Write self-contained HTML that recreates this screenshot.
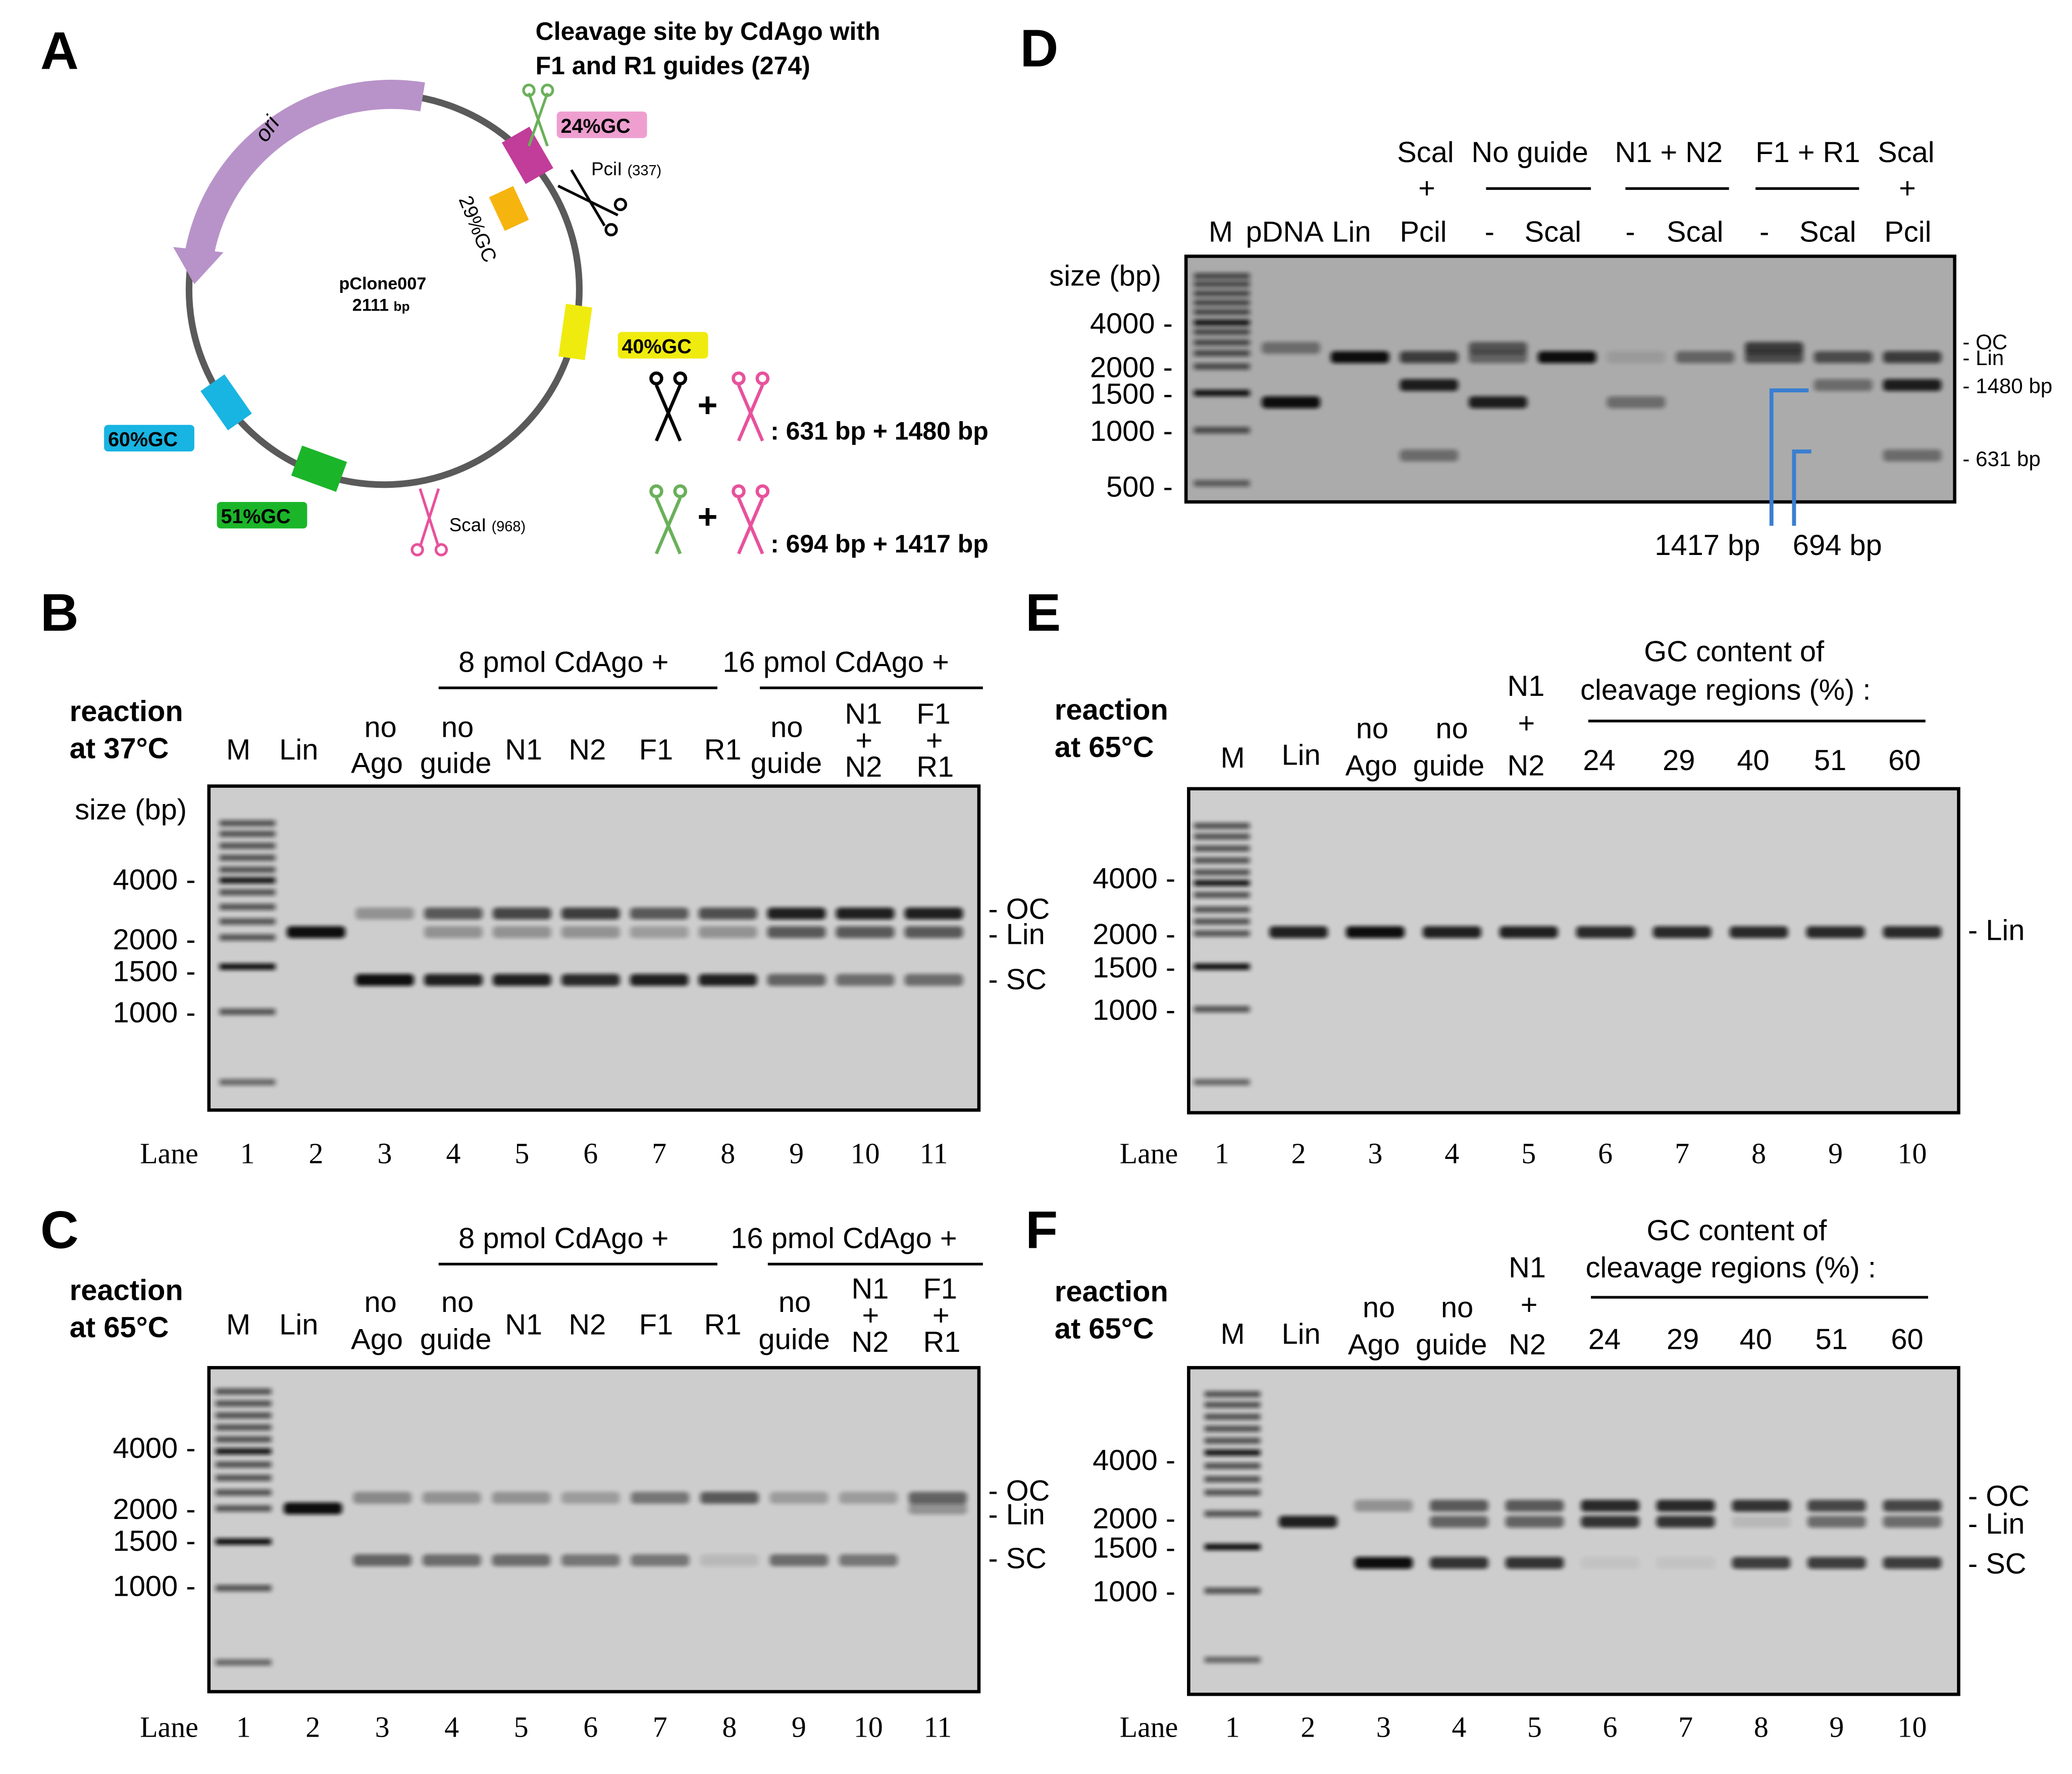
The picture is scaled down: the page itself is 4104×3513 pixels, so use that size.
<!DOCTYPE html>
<html><head><meta charset="utf-8">
<style>
html,body{margin:0;padding:0;background:#fff;}
svg{display:block;}
text{font-family:"Liberation Sans",Arial,sans-serif;fill:#000;}
.serif{font-family:"Liberation Serif",serif;}
</style></head>
<body>
<svg id="fig" xmlns="http://www.w3.org/2000/svg" width="4104" height="3513" viewBox="0 0 1560 1336">
<defs>
<filter id="blur" x="-20%" y="-100%" width="140%" height="300%"><feGaussianBlur stdDeviation="1.8 1.4"/></filter>
</defs>
<text x="30" y="52" font-size="40" font-weight="bold">A</text>
<text x="768" y="50" font-size="40" font-weight="bold">D</text>
<text x="30" y="475" font-size="40" font-weight="bold">B</text>
<text x="772" y="475" font-size="40" font-weight="bold">E</text>
<text x="30" y="940" font-size="40" font-weight="bold">C</text>
<text x="772" y="940" font-size="40" font-weight="bold">F</text>

<g>
<text x="403" y="30" font-size="19" font-weight="bold">Cleavage site by CdAgo with</text>
<text x="403" y="56" font-size="19" font-weight="bold">F1 and R1 guides (274)</text>
<circle cx="289" cy="218" r="147" fill="none" stroke="#5a5a5a" stroke-width="5"/>
<path d="M318,73 A147,147 0 0 0 150,190" fill="none" stroke="#b893c9" stroke-width="22"/>
<polygon points="130,186 168,190 146,214" fill="#b893c9"/>
<text x="0" y="0" font-size="17" font-style="italic" fill="#333" transform="translate(200,108) rotate(-55)">ori</text>
<rect x="-12" y="-18" width="24" height="36" fill="#c23c9a" transform="translate(397,117) rotate(-30)"/>
<rect x="-10" y="-14" width="20" height="28" fill="#f6b40f" transform="translate(383,157) rotate(-25)"/>
<rect x="-10" y="-20" width="20" height="40" fill="#f0eb0e" transform="translate(433,250) rotate(8)"/>
<rect x="-11" y="-18" width="22" height="36" fill="#18b4e2" transform="translate(170,303) rotate(-35)"/>
<rect x="-12" y="-18" width="24" height="36" fill="#1bb529" transform="translate(240,353) rotate(-70)"/>
<rect x="419" y="84" width="68" height="20" rx="3" fill="#ee9fd0"/>
<text x="422" y="100" font-size="15" font-weight="bold">24%GC</text>
<rect x="465" y="250" width="68" height="20" rx="3" fill="#f0eb0e"/>
<text x="468" y="266" font-size="15" font-weight="bold">40%GC</text>
<rect x="78" y="320" width="68" height="20" rx="3" fill="#18b4e2"/>
<text x="81" y="336" font-size="15" font-weight="bold">60%GC</text>
<rect x="163" y="378" width="68" height="20" rx="3" fill="#1bb529"/>
<text x="166" y="394" font-size="15" font-weight="bold">51%GC</text>
<text x="0" y="0" font-size="15" transform="translate(345,150) rotate(68)">29%GC</text>
<text x="255" y="218" font-size="13" font-weight="bold">pClone007</text>
<text x="265" y="234" font-size="13" font-weight="bold">2111 <tspan font-size="10">bp</tspan></text>
<text x="445" y="132" font-size="14">PciI <tspan font-size="11">(337)</tspan></text>
<text x="338" y="400" font-size="14">ScaI <tspan font-size="11">(968)</tspan></text>
<g stroke="#6ab05a" stroke-width="2" fill="none"><line x1="398" y1="70" x2="412" y2="110"/><line x1="412" y1="70" x2="398" y2="110"/><circle cx="398" cy="68" r="4"/><circle cx="412" cy="68" r="4"/></g>
<g stroke="#000" stroke-width="2" fill="none"><line x1="420" y1="140" x2="465" y2="162"/><line x1="430" y1="128" x2="455" y2="170"/><circle cx="467" cy="154" r="4"/><circle cx="460" cy="173" r="4"/></g>
<g stroke="#e8519c" stroke-width="2" fill="none"><line x1="316" y1="368" x2="330" y2="412"/><line x1="330" y1="368" x2="316" y2="412"/><circle cx="314" cy="414" r="4"/><circle cx="332" cy="414" r="4"/></g>
<g stroke="#000" stroke-width="2.5" fill="none"><line x1="494" y1="290" x2="512" y2="332"/><line x1="512" y1="290" x2="494" y2="332"/><circle cx="494" cy="285" r="4"/><circle cx="512" cy="285" r="4"/></g>
<text x="525" y="314" font-size="26" font-weight="bold">+</text>
<g stroke="#e8519c" stroke-width="2.5" fill="none"><line x1="556" y1="290" x2="574" y2="332"/><line x1="574" y1="290" x2="556" y2="332"/><circle cx="556" cy="285" r="4"/><circle cx="574" cy="285" r="4"/></g>
<text x="580" y="331" font-size="19" font-weight="bold">: 631 bp + 1480 bp</text>
<g stroke="#6ab05a" stroke-width="2.5" fill="none"><line x1="494" y1="375" x2="512" y2="417"/><line x1="512" y1="375" x2="494" y2="417"/><circle cx="494" cy="370" r="4"/><circle cx="512" cy="370" r="4"/></g>
<text x="525" y="398" font-size="26" font-weight="bold">+</text>
<g stroke="#e8519c" stroke-width="2.5" fill="none"><line x1="556" y1="375" x2="574" y2="417"/><line x1="574" y1="375" x2="556" y2="417"/><circle cx="556" cy="370" r="4"/><circle cx="574" cy="370" r="4"/></g>
<text x="580" y="416" font-size="19" font-weight="bold">: 694 bp + 1417 bp</text>
</g>

<g font-size="22">
<text x="52" y="543" font-weight="bold">reaction</text><text x="52" y="571" font-weight="bold">at 37°C</text>
<text x="170" y="572">M</text><text x="210" y="572">Lin</text>
<text x="274" y="555">no</text><text x="264" y="582">Ago</text>
<text x="332" y="555">no</text><text x="316" y="582">guide</text>
<text x="380" y="572">N1</text><text x="428" y="572">N2</text><text x="481" y="572">F1</text><text x="530" y="572">R1</text>
<text x="580" y="555">no</text><text x="565" y="582">guide</text>
<text x="636" y="545">N1</text><text x="644" y="565">+</text><text x="636" y="585">N2</text>
<text x="690" y="545">F1</text><text x="697" y="565">+</text><text x="690" y="585">R1</text>
<text x="345" y="506">8 pmol CdAgo +</text><text x="544" y="506">16 pmol CdAgo +</text>
<line x1="330" y1="518" x2="540" y2="518" stroke="#000" stroke-width="2"/><line x1="572" y1="518" x2="740" y2="518" stroke="#000" stroke-width="2"/>
<text x="56" y="617">size (bp)</text>
<text x="744" y="692">- OC</text><text x="744" y="711">- Lin</text><text x="744" y="745">- SC</text>
<text x="52" y="979" font-weight="bold">reaction</text><text x="52" y="1007" font-weight="bold">at 65°C</text>
<text x="170" y="1005">M</text><text x="210" y="1005">Lin</text>
<text x="274" y="988">no</text><text x="264" y="1016">Ago</text>
<text x="332" y="988">no</text><text x="316" y="1016">guide</text>
<text x="380" y="1005">N1</text><text x="428" y="1005">N2</text><text x="481" y="1005">F1</text><text x="530" y="1005">R1</text>
<text x="586" y="988">no</text><text x="571" y="1016">guide</text>
<text x="641" y="978">N1</text><text x="649" y="998">+</text><text x="641" y="1018">N2</text>
<text x="695" y="978">F1</text><text x="702" y="998">+</text><text x="695" y="1018">R1</text>
<text x="345" y="940">8 pmol CdAgo +</text><text x="550" y="940">16 pmol CdAgo +</text>
<line x1="330" y1="952" x2="540" y2="952" stroke="#000" stroke-width="2"/><line x1="578" y1="952" x2="740" y2="952" stroke="#000" stroke-width="2"/>
<text x="744" y="1130">- OC</text><text x="744" y="1148">- Lin</text><text x="744" y="1181">- SC</text>
<text x="794" y="542" font-weight="bold">reaction</text><text x="794" y="570" font-weight="bold">at 65°C</text>
<text x="919" y="578">M</text><text x="965" y="576">Lin</text>
<text x="1021" y="556">no</text><text x="1013" y="584">Ago</text>
<text x="1081" y="556">no</text><text x="1064" y="584">guide</text>
<text x="1135" y="524">N1</text><text x="1143" y="552">+</text><text x="1135" y="584">N2</text>
<text x="1192" y="580">24</text><text x="1252" y="580">29</text><text x="1308" y="580">40</text><text x="1366" y="580">51</text><text x="1422" y="580">60</text>
<text x="1238" y="498">GC content of</text><text x="1190" y="527">cleavage regions (%) :</text>
<line x1="1196" y1="543" x2="1450" y2="543" stroke="#000" stroke-width="2"/>
<text x="1482" y="708">- Lin</text>
<text x="794" y="980" font-weight="bold">reaction</text><text x="794" y="1008" font-weight="bold">at 65°C</text>
<text x="919" y="1012">M</text><text x="965" y="1012">Lin</text>
<text x="1026" y="992">no</text><text x="1015" y="1020">Ago</text>
<text x="1085" y="992">no</text><text x="1066" y="1020">guide</text>
<text x="1136" y="962">N1</text><text x="1145" y="990">+</text><text x="1136" y="1020">N2</text>
<text x="1196" y="1016">24</text><text x="1255" y="1016">29</text><text x="1310" y="1016">40</text><text x="1367" y="1016">51</text><text x="1424" y="1016">60</text>
<text x="1240" y="934">GC content of</text><text x="1194" y="962">cleavage regions (%) :</text>
<line x1="1198" y1="977" x2="1452" y2="977" stroke="#000" stroke-width="2"/>
<text x="1482" y="1134">- OC</text><text x="1482" y="1155">- Lin</text><text x="1482" y="1185">- SC</text>
<text x="910" y="182">M</text><text x="938" y="182">pDNA</text><text x="1003" y="182">Lin</text><text x="1054" y="182">Pcil</text>
<text x="1118" y="182">-</text><text x="1148" y="182">Scal</text><text x="1224" y="182">-</text><text x="1255" y="182">Scal</text>
<text x="1325" y="182">-</text><text x="1355" y="182">Scal</text><text x="1419" y="182">Pcil</text>
<text x="1052" y="122">Scal</text><text x="1068" y="149">+</text><text x="1108" y="122">No guide</text>
<text x="1216" y="122">N1 + N2</text><text x="1322" y="122">F1 + R1</text><text x="1414" y="122">Scal</text><text x="1430" y="149">+</text>
<line x1="1119" y1="142" x2="1198" y2="142" stroke="#000" stroke-width="2"/><line x1="1224" y1="142" x2="1302" y2="142" stroke="#000" stroke-width="2"/><line x1="1322" y1="142" x2="1400" y2="142" stroke="#000" stroke-width="2"/>
<text x="790" y="215">size (bp)</text>
<g font-size="16"><text x="1478" y="263">- OC</text><text x="1478" y="275">- Lin</text><text x="1478" y="296">- 1480 bp</text><text x="1478" y="351">- 631 bp</text></g>
<text x="1246" y="418">1417 bp</text><text x="1350" y="418">694 bp</text>
</g>
<g id="gels"></g>
<path d="M1334,396 V294 H1362 M1351,396 V340 H1364" fill="none" stroke="#3a7fd0" stroke-width="3"/>
</svg>
<script>
// Marker tick labels
const sizeTicks = ["4000","2000","1500","1000"];
const sizeTicksD = ["4000","2000","1500","1000","500"];
// Gel intensities per lane (0..1)
const bOC  = [0, 0, 0.3, 0.6, 0.7, 0.75, 0.6, 0.65, 0.9, 0.9, 0.9];
const bLin = [0, 1, 0, 0.3, 0.3, 0.3, 0.25, 0.3, 0.6, 0.6, 0.6];
const bSC  = [0, 0, 1, 0.9, 0.9, 0.85, 0.9, 0.9, 0.55, 0.5, 0.5];
const cOC  = [0, 0, 0.35, 0.3, 0.3, 0.25, 0.45, 0.6, 0.25, 0.25, 0.55];
const cLin = [0, 1, 0, 0, 0, 0, 0, 0, 0, 0, 0.3];
const cSC  = [0, 0, 0.55, 0.5, 0.5, 0.45, 0.45, 0.1, 0.5, 0.45, 0];
const eLin = [0, 0.9, 1, 0.9, 0.9, 0.85, 0.85, 0.85, 0.85, 0.85];
const fOC  = [0, 0, 0.3, 0.6, 0.6, 0.85, 0.85, 0.8, 0.7, 0.7];
const fLin = [0, 0.9, 0, 0.55, 0.55, 0.8, 0.8, 0.1, 0.5, 0.5];
const fSC  = [0, 0, 1, 0.8, 0.8, 0.05, 0.05, 0.75, 0.75, 0.75];
const dOC  = [0, 0.4, 0, 0, 0.55, 0, 0, 0, 0.7, 0, 0];
const dLin = [0, 0, 1, 0.7, 0.45, 1, 0.1, 0.45, 0.6, 0.6, 0.7];
const d1480= [0, 0, 0, 0.9, 0, 0, 0, 0, 0, 0.4, 0.9];
const dSC  = [0, 1, 0, 0, 0.9, 0, 0.4, 0, 0, 0, 0];
const d631 = [0, 0, 0, 0.4, 0, 0, 0, 0, 0, 0, 0.4];

const NS="http://www.w3.org/2000/svg";
const root=document.getElementById('gels');
function el(t,a,p){const e=document.createElementNS(NS,t);for(const k in a)e.setAttribute(k,a[k]);(p||root).appendChild(e);return e;}

function gel(cfg){
  const g=el('g',{});
  
  
  const bg=el('rect',{x:cfg.x,y:cfg.y,width:cfg.w,height:cfg.h,fill:cfg.bg,stroke:'#000','stroke-width':2.5},g);
  
  
  const n=cfg.lanes;
  const lx=i=>cfg.x0+(cfg.x1-cfg.x0)*i/(n-1);
  cfg.ladder.forEach((y,k)=>{
    const r=el('rect',{x:lx(0)-21,y:y-2.5,width:42,height:5,fill:'#111',opacity:cfg.ladOp[k]||0.8,filter:'url(#blur)'},g);
    
    
  });
  cfg.series.forEach(s=>{
    s.vals.forEach((v,i)=>{
      if(v<=0) return;
      const r=el('rect',{x:lx(i)-22,y:s.y-4.5,width:44,height:9,rx:3,fill:'#0a0a0a',opacity:Math.min(1,v),filter:'url(#blur)'},g);
      
      
    });
  });
  cfg.ticks.forEach((t,k)=>{
    const tx=el('text',{x:cfg.x-10,y:cfg.tickY[k]+8,'font-size':22,'text-anchor':'end'},g);
    tx.textContent=t+' -';
    
    
  });
  if(cfg.laneY){
    const lt=el('text',{x:cfg.x-8,y:cfg.laneY,'font-size':22,'class':'serif','text-anchor':'end'},g);
    lt.textContent='Lane';
    
    
    for(let i=0;i<n;i++){
      const t=el('text',{x:lx(i),y:cfg.laneY,'font-size':22,'class':'serif','text-anchor':'middle'},g);
      t.textContent=String(i+1);
      
      
    }
  }
}
const ladderOp=[0.6,0.6,0.6,0.6,0.6,0.9,0.6,0.6,0.6,0.6,0.95,0.6,0.5];
gel({name:'gel-b',x:157,y:592,w:580,h:244,bg:'#cdcdcd',lanes:11,x0:186,x1:703,
  ladder:[620,628,637,646,655,663,672,683,694,706,728,762,815],ladOp:ladderOp,
  series:[{label:'oc',y:688,vals:bOC},{label:'lin',y:702,vals:bLin},{label:'sc',y:738,vals:bSC}],
  ticks:sizeTicks,tickY:[662,707,731,762],laneY:876});
gel({name:'gel-c',x:157,y:1030,w:580,h:244,bg:'#cdcdcd',lanes:11,x0:183,x1:706,
  ladder:[1048,1057,1066,1075,1084,1093,1103,1113,1124,1136,1161,1196,1252],ladOp:ladderOp,
  series:[{label:'oc',y:1128,vals:cOC},{label:'lin',y:1136,vals:cLin},{label:'sc',y:1175,vals:cSC}],
  ticks:sizeTicks,tickY:[1090,1136,1160,1194],laneY:1308});
gel({name:'gel-e',x:895,y:594,w:580,h:244,bg:'#cecece',lanes:10,x0:920,x1:1440,
  ladder:[622,630,639,648,657,665,674,685,694,703,728,760,815],ladOp:ladderOp,
  series:[{label:'lin',y:702,vals:eLin}],
  ticks:sizeTicks,tickY:[661,703,728,760],laneY:876});
gel({name:'gel-f',x:895,y:1030,w:580,h:246,bg:'#cdcdcd',lanes:10,x0:928,x1:1440,
  ladder:[1050,1058,1067,1076,1085,1094,1104,1114,1124,1140,1165,1198,1250],ladOp:ladderOp,
  series:[{label:'oc',y:1134,vals:fOC},{label:'lin',y:1146,vals:fLin},{label:'sc',y:1177,vals:fSC}],
  ticks:sizeTicks,tickY:[1099,1143,1165,1198],laneY:1308});
gel({name:'gel-d',x:893,y:193,w:579,h:185,bg:'#ababab',lanes:11,x0:920,x1:1440,
  ladder:[208,214,221,228,235,243,250,258,266,276,296,324,364],ladOp:ladderOp,
  series:[{label:'oc',y:262,vals:dOC},{label:'lin',y:269,vals:dLin},{label:'1480',y:290,vals:d1480},{label:'sc',y:303,vals:dSC},{label:'631',y:343,vals:d631}],
  ticks:sizeTicksD,tickY:[243,276,296,324,366],laneY:null});
</script>
</body></html>
